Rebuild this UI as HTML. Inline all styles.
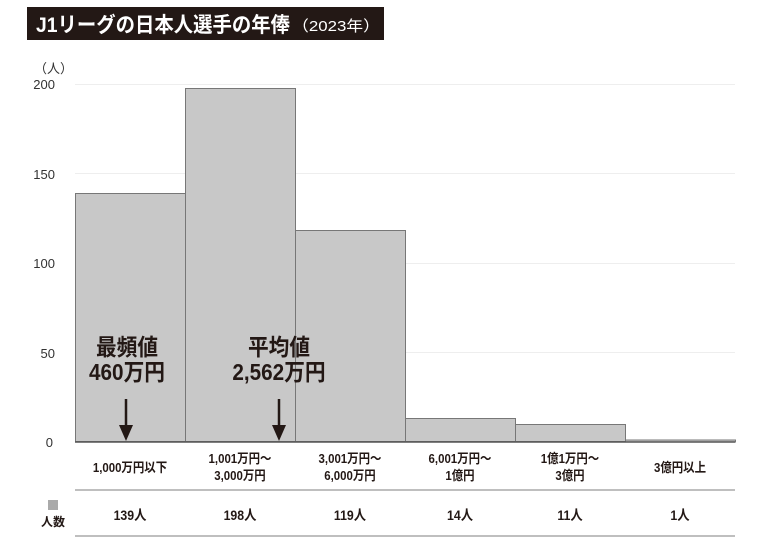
<!DOCTYPE html>
<html><head><meta charset="utf-8"><style>
html,body{margin:0;padding:0;background:#fff;}
svg{display:block;font-family:"Liberation Sans","Noto Sans CJK JP",sans-serif;}
</style></head><body>
<svg width="766" height="544" viewBox="0 0 766 544" xmlns="http://www.w3.org/2000/svg">
<rect x="27" y="7" width="357" height="33" fill="#231815"/>
<text x="36" y="32" fill="#fff" font-size="21" font-weight="bold" textLength="254" lengthAdjust="spacingAndGlyphs">J1リーグの日本人選手の年俸</text>
<text x="292" y="31" fill="#fff" font-size="15" textLength="88" lengthAdjust="spacingAndGlyphs">（2023年）</text>
<text x="34" y="73" font-size="13" fill="#333">（人）</text>
<g font-size="13" fill="#333" text-anchor="end">
<text x="55" y="89">200</text><text x="55" y="179">150</text><text x="55" y="268">100</text><text x="55" y="358">50</text><text x="53" y="447">0</text>
</g>
<g stroke="#eee" stroke-width="1">
<line x1="75" y1="84.5" x2="735" y2="84.5"/><line x1="75" y1="173.5" x2="735" y2="173.5"/><line x1="75" y1="263.5" x2="735" y2="263.5"/><line x1="75" y1="352.5" x2="735" y2="352.5"/>
</g>
<g fill="#c8c8c8" stroke="#777" stroke-width="1">
<rect x="75.5" y="193.5" width="110" height="248"/>
<rect x="185.5" y="88.5" width="110" height="353"/>
<rect x="295.5" y="230.5" width="110" height="211"/>
<rect x="405.5" y="418.5" width="110" height="23"/>
<rect x="515.5" y="424.5" width="110" height="17"/>
<rect x="625.5" y="440" width="110" height="2"/>
</g>
<line x1="75" y1="442" x2="735" y2="442" stroke="#555" stroke-width="1.5"/>
<g font-size="23" font-weight="bold" fill="#231815" text-anchor="middle">
<text transform="translate(127,355) scale(0.9,1)">最頻値</text><text transform="translate(127,380) scale(0.9,1)">460万円</text>
<text transform="translate(279,355) scale(0.9,1)">平均値</text><text transform="translate(279,380) scale(0.9,1)">2,562万円</text>
</g>
<g stroke="#231815" stroke-width="2.5"><line x1="126" y1="399" x2="126" y2="428"/><line x1="279" y1="399" x2="279" y2="428"/></g>
<g fill="#231815"><polygon points="119,425 133,425 126,441"/><polygon points="272,425 286,425 279,441"/></g>
<g font-size="13" fill="#231815" text-anchor="middle" font-weight="bold">
<text transform="translate(130,472) scale(0.88,1)">1,000万円以下</text>
<text transform="translate(240,463) scale(0.88,1)">1,001万円～</text><text transform="translate(240,480) scale(0.88,1)">3,000万円</text>
<text transform="translate(350,463) scale(0.88,1)">3,001万円～</text><text transform="translate(350,480) scale(0.88,1)">6,000万円</text>
<text transform="translate(460,463) scale(0.88,1)">6,001万円～</text><text transform="translate(460,480) scale(0.88,1)">1億円</text>
<text transform="translate(570,463) scale(0.88,1)">1億1万円～</text><text transform="translate(570,480) scale(0.88,1)">3億円</text>
<text transform="translate(680,472) scale(0.88,1)">3億円以上</text>
</g>
<line x1="75" y1="490" x2="735" y2="490" stroke="#999" stroke-width="1.2"/>
<rect x="48" y="500" width="10" height="10" fill="#aaa"/>
<text x="53" y="526" font-size="12" fill="#231815" text-anchor="middle" font-weight="bold">人数</text>
<g font-size="14" fill="#231815" text-anchor="middle" font-weight="bold">
<text transform="translate(130,520) scale(0.88,1)">139人</text><text transform="translate(240,520) scale(0.88,1)">198人</text><text transform="translate(350,520) scale(0.88,1)">119人</text><text transform="translate(460,520) scale(0.88,1)">14人</text><text transform="translate(570,520) scale(0.88,1)">11人</text><text transform="translate(680,520) scale(0.88,1)">1人</text>
</g>
<line x1="75" y1="536" x2="735" y2="536" stroke="#999" stroke-width="1.2"/>
</svg>
</body></html>
